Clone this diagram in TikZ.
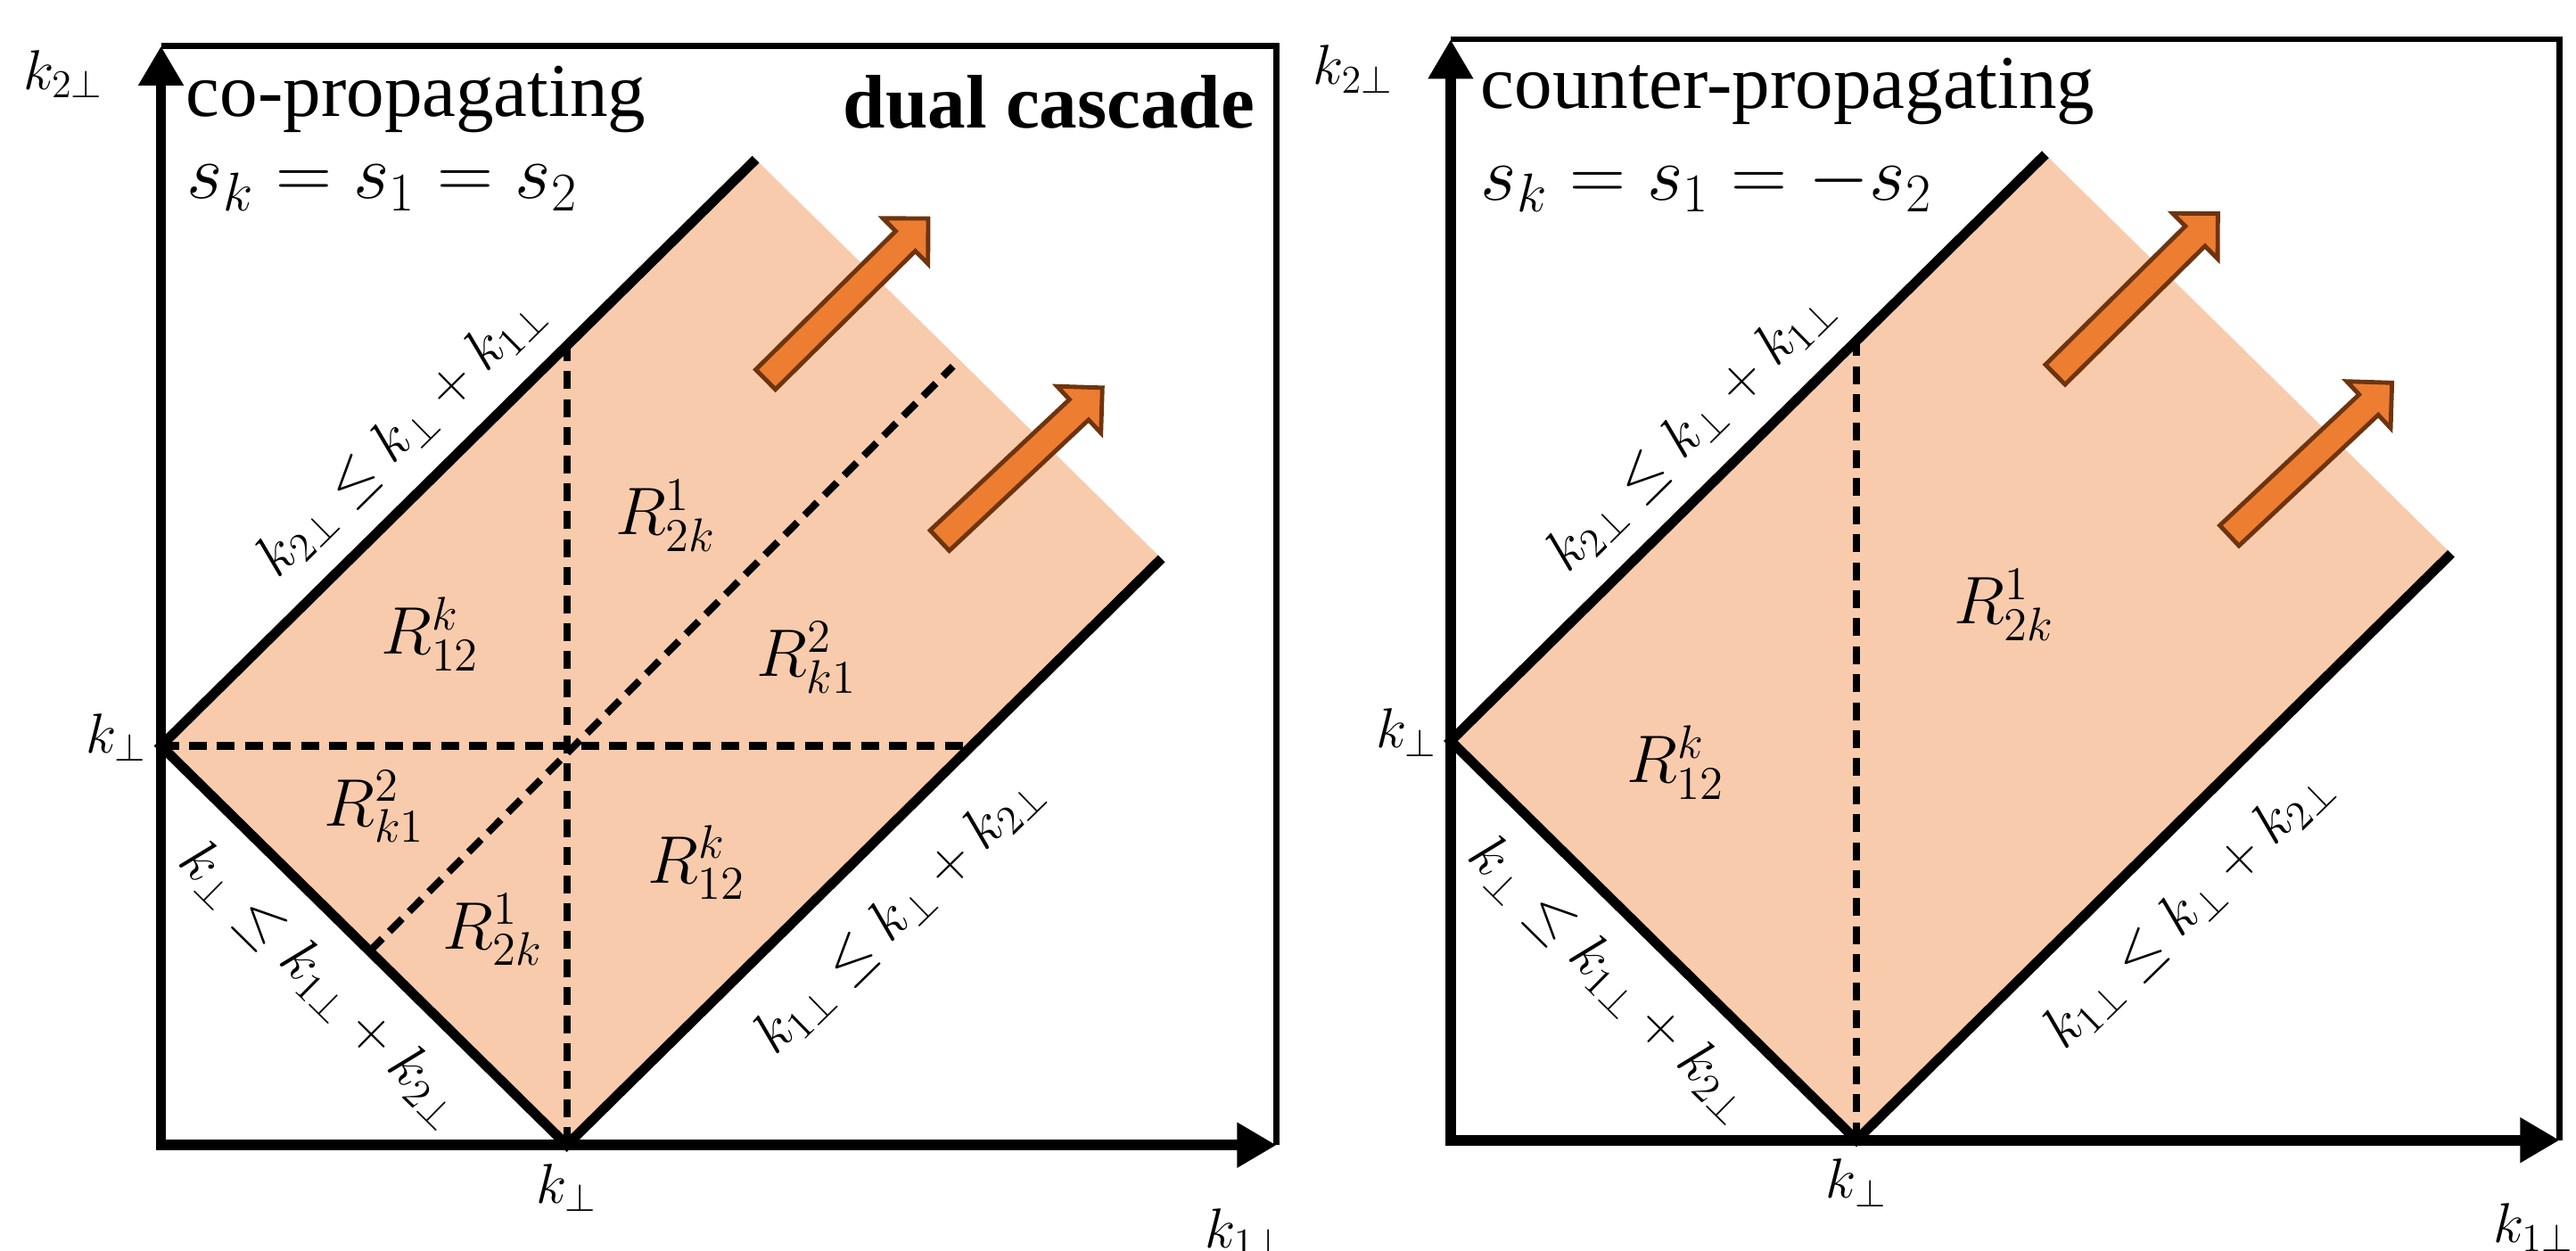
\documentclass[tikz,border=0pt]{standalone}
\usepackage{fix-cm}
\usepackage{fontspec}
\setmainfont{Liberation Serif}
\usetikzlibrary{arrows.meta,calc}
\definecolor{regionfill}{HTML}{F8CBAD}
\definecolor{arrowfill}{HTML}{ED7D31}
\definecolor{arrowedge}{HTML}{6E340E}
\tikzset{
  frameline/.style={line width=2pt},
  axisline/.style={line width=3.6pt, {Triangle[length=0.48cm,width=0.52cm]}-{Triangle[length=0.48cm,width=0.52cm]}},
  boundline/.style={line width=3.4pt},
  dashline/.style={line width=2.5pt, dash pattern=on 6.2pt off 3.5pt},
  bigarrow/.style={fill=arrowfill, draw=arrowedge, line width=1.5pt, line join=miter},
  titletext/.style={font=\fontsize{26.3}{31}\selectfont, inner sep=0pt},
  boldtext/.style={font=\fontsize{26.3}{31}\selectfont\bfseries, inner sep=0pt},
  eqtext/.style={font=\fontsize{27}{32}\selectfont, inner sep=0pt},
  regionlabel/.style={font=\fontsize{23.3}{28}\selectfont, inner sep=0pt},
  axislabel/.style={font=\fontsize{19.5}{23}\selectfont, inner sep=0pt},
  constraint/.style={font=\fontsize{20.3}{25}\selectfont, inner sep=0pt},
}
\newcommand{\myblockarrow}[3]{%
  \coordinate (#1t) at #2;
  \coordinate (#1p) at #3;
  \coordinate (#1b) at ($(#1p)!0.39cm!(#1t)$);
  \filldraw[bigarrow] ($(#1t)!0.17cm!90:(#1p)$) -- ($(#1b)!0.17cm!-90:(#1t)$) -- ($(#1b)!0.39cm!-90:(#1t)$) -- (#1p) -- ($(#1b)!0.39cm!90:(#1t)$) -- ($(#1b)!0.17cm!90:(#1t)$) -- ($(#1t)!0.17cm!-90:(#1p)$) -- cycle;
}
\begin{document}
\begin{tikzpicture}[x=0.02cm,y=-0.02cm]
\useasboundingbox (0,0) rectangle (1568,761);
\clip (0,0) rectangle (1568,761);
% ---------------- left panel ----------------
\coordinate (LO) at (98,697);
\coordinate (LKy) at (98,454);
\coordinate (LKx) at (345,697);
\coordinate (LT1) at (460,97);
\coordinate (LT2) at (707,340);
\coordinate (LYtop) at (98,28);
\coordinate (LXend) at (777,697);
\coordinate (LFtr) at (777,28);
\coordinate (LVtop) at (345,210.5);
\coordinate (LHend) at (591.5,454);
\coordinate (LDa) at (225,579);
\coordinate (LDb) at (580,223);
\fill[regionfill] (LKy) -- (LT1) -- (LT2) -- (LKx) -- cycle;
\draw[dashline] (LKx) -- (LVtop);
\draw[dashline] (LKy) -- (LHend);
\draw[dashline] (LDa) -- (LDb);
\draw[boundline] (LT1) -- (LKy) -- (LKx) -- (LT2);
\myblockarrow{LA}{(466,231)}{(565,133)}
\myblockarrow{LB}{(572,329)}{(671,236)}
\draw[frameline] (LYtop) -- (LFtr) -- (LXend);
\draw[axisline] (LYtop) -- (LO) -- (LXend);
\node[titletext, anchor=base west] (Ltitle) at (113,71) {co-propagating};
\node[eqtext, anchor=base west] (Leq) at (113.5,121) {$s_k = s_1 = s_2$};
\node[boldtext, anchor=base east] (Ldual) at (764,78) {dual cascade};
\node[axislabel] (Lk2) at (38.5,45) {$k_{2\perp}$};
\node[axislabel] (Lky) at (71,449) {$k_\perp$};
\node[axislabel] (Lkx) at (345,723) {$k_\perp$};
\node[axislabel] (Lk1) at (758,750) {$k_{1\perp}$};
\node[constraint, rotate=44.6] (Lc1) at (244,265) {$k_{2\perp} \leq k_\perp + k_{1\perp}$};
\node[constraint, rotate=-44.6] (Lc2) at (196,599) {$k_\perp \leq k_{1\perp} + k_{2\perp}$};
\node[constraint, rotate=44.3] (Lc3) at (547,556) {$k_{1\perp} \leq k_\perp + k_{2\perp}$};
\node[regionlabel] (Lr1) at (405,314) {$R^1_{2k}$};
\node[regionlabel] (Lr2) at (262,386) {$R^k_{12}$};
\node[regionlabel] (Lr3) at (491,400) {$R^2_{k1}$};
\node[regionlabel] (Lr4) at (228,491) {$R^2_{k1}$};
\node[regionlabel] (Lr5) at (300,566) {$R^1_{2k}$};
\node[regionlabel] (Lr6) at (424,525) {$R^k_{12}$};
% ---------------- right panel ----------------
\begin{scope}[shift={(785,-3)}]
\coordinate (RO) at (98,697);
\coordinate (RKy) at (98,454);
\coordinate (RKx) at (345,697);
\coordinate (RT1) at (460,97);
\coordinate (RT2) at (707,340);
\coordinate (RYtop) at (98,27);
\coordinate (RXend) at (773,697);
\coordinate (RFtr) at (773,27);
\coordinate (RVtop) at (345,210.5);
\fill[regionfill] (RKy) -- (RT1) -- (RT2) -- (RKx) -- cycle;
\draw[dashline] (RKx) -- (RVtop);
\draw[boundline] (RT1) -- (RKy) -- (RKx) -- (RT2);
\myblockarrow{RA}{(466,231)}{(565,133)}
\myblockarrow{RB}{(572,329)}{(671,236)}
\draw[frameline] (RYtop) -- (RFtr) -- (RXend);
\draw[axisline] (RYtop) -- (RO) -- (RXend);
\node[titletext, anchor=base west] (Rtitle) at (116,69) {counter-propagating};
\node[eqtext, anchor=base west] (Req) at (116,125) {$s_k = s_1 = -s_2$};
\node[axislabel] (Rk2) at (38.5,45) {$k_{2\perp}$};
\node[axislabel] (Rky) at (71,449) {$k_\perp$};
\node[axislabel] (Rkx) at (345,723) {$k_\perp$};
\node[axislabel] (Rk1) at (757,750) {$k_{1\perp}$};
\node[constraint, rotate=44.6] (Rc1) at (244,265) {$k_{2\perp} \leq k_\perp + k_{1\perp}$};
\node[constraint, rotate=-44.6] (Rc2) at (196,599) {$k_\perp \leq k_{1\perp} + k_{2\perp}$};
\node[constraint, rotate=44.3] (Rc3) at (547,556) {$k_{1\perp} \leq k_\perp + k_{2\perp}$};
\node[regionlabel] (Rr1) at (435,371) {$R^1_{2k}$};
\node[regionlabel] (Rr2) at (235,467) {$R^k_{12}$};
\end{scope}
\end{tikzpicture}
\end{document}
